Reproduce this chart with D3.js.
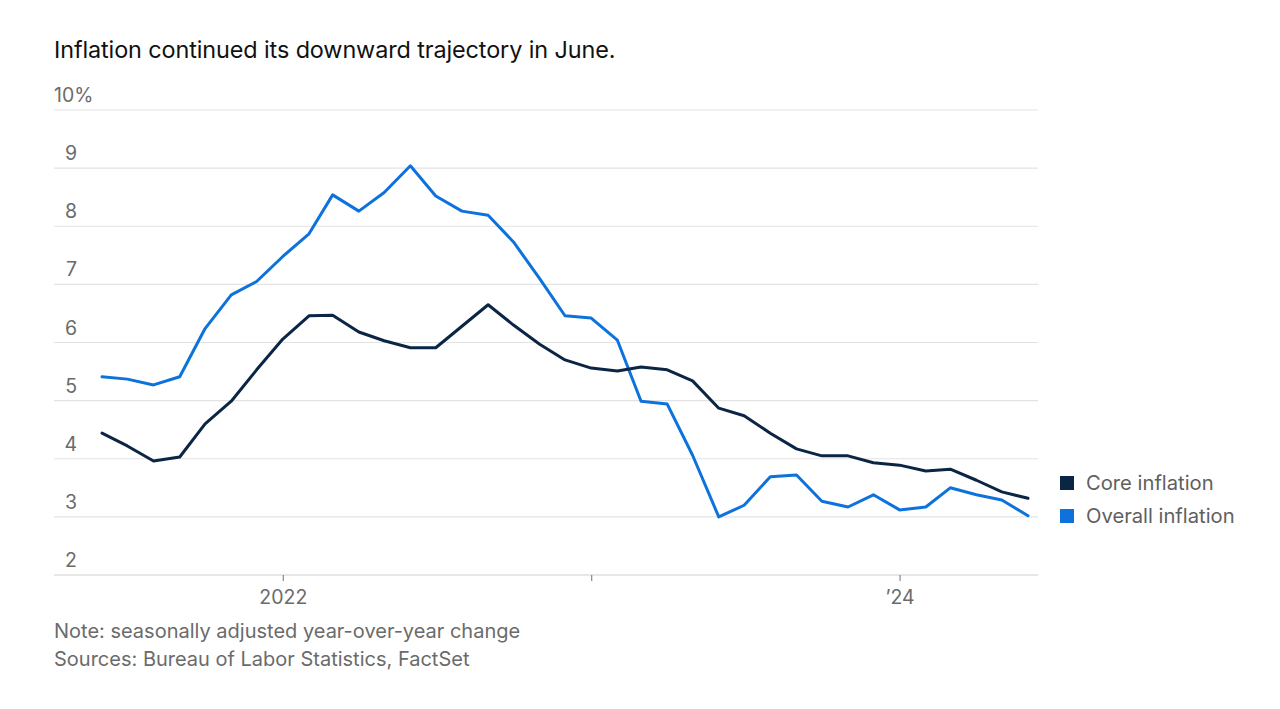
<!DOCTYPE html>
<html>
<head>
<meta charset="utf-8">
<script src="https://cdn.jsdelivr.net/npm/d3@7"></script>
<style>
  html, body { margin: 0; padding: 0; background: #fff; }
  svg { display: block; font-family: Inter, "Noto Sans", sans-serif; }
</style>
</head>
<body>
<svg id="chart" width="1280" height="709"></svg>
<script>
const months = [
  "2021-06","2021-07","2021-08","2021-09","2021-10","2021-11","2021-12",
  "2022-01","2022-02","2022-03","2022-04","2022-05","2022-06","2022-07","2022-08","2022-09","2022-10","2022-11","2022-12",
  "2023-01","2023-02","2023-03","2023-04","2023-05","2023-06","2023-07","2023-08","2023-09","2023-10","2023-11","2023-12",
  "2024-01","2024-02","2024-03","2024-04","2024-05","2024-06"
];
const coreInflation = [
  4.44, 4.22, 3.96, 4.03, 4.60, 4.99, 5.53,
  6.06, 6.46, 6.47, 6.18, 6.03, 5.91, 5.91, 6.28, 6.65, 6.30, 5.97, 5.70,
  5.56, 5.51, 5.58, 5.53, 5.34, 4.87, 4.74, 4.44, 4.17, 4.05, 4.05, 3.93,
  3.89, 3.79, 3.82, 3.63, 3.43, 3.32
];
const overallInflation = [
  5.41, 5.37, 5.27, 5.41, 6.24, 6.82, 7.05,
  7.48, 7.87, 8.54, 8.26, 8.58, 9.04, 8.52, 8.26, 8.19, 7.73, 7.10, 6.46,
  6.42, 6.04, 4.99, 4.94, 4.06, 3.00, 3.20, 3.69, 3.72, 3.27, 3.17, 3.38,
  3.12, 3.17, 3.50, 3.38, 3.29, 3.02
];
const yTicks = [2, 3, 4, 5, 6, 7, 8, 9, 10];
const xTickDates = ["2022-01", "2023-01", "2024-01"];
const xTickLabels = ["2022", "", "\u201924"];
const seriesNames = ["Core inflation", "Overall inflation"];
const seriesColors = ["#0b2545", "#0d72dc"];

const svg = d3.select("#chart");
const parse = d3.timeParse("%Y-%m");
const dates = months.map(parse);

const x = d3.scaleTime().domain([dates[0], dates[dates.length - 1]]).range([102, 1028]);
const y = d3.scaleLinear().domain([2, 10]).range([575, 110]);

// Title
svg.append("text")
  .attr("x", 54).attr("y", 58)
  .attr("font-size", 23.4).attr("fill", "#111")
  .attr("letter-spacing", -0.1)
  .text("Inflation continued its downward trajectory in June.");

// Gridlines
const grid = svg.append("g");
grid.selectAll("line").data(yTicks).join("line")
  .attr("x1", 54).attr("x2", 1038)
  .attr("y1", d => y(d)).attr("y2", d => y(d))
  .attr("stroke", d => d === 2 ? "#cfcfcf" : "#e3e3e3")
  .attr("stroke-width", 1.2);

// Y labels (right-aligned numbers, % hangs)
const yl = svg.append("g").attr("font-size", 19.5).attr("fill", "#6b6b6b");
yl.selectAll("text").data(yTicks).join("text")
  .attr("x", 77).attr("y", d => y(d) - 8)
  .attr("text-anchor", "end")
  .text(d => d)
  .filter(d => d === 10)
  .append("tspan").text("%");
yl.selectAll("text").filter(d => d === 10).attr("text-anchor", "start").attr("x", 54);

// X axis ticks
const xAxis = d3.axisBottom(x)
  .tickValues(xTickDates.map(parse))
  .tickSize(6)
  .tickFormat((d, i) => xTickLabels[i]);
const gx = svg.append("g").attr("transform", "translate(0,575)").call(xAxis);
gx.select(".domain").remove();
gx.selectAll(".tick line").attr("stroke", "#888").attr("stroke-width", 1.2);
gx.selectAll(".tick text")
  .attr("font-family", "Inter, 'Noto Sans', sans-serif")
  .attr("font-size", 19.5).attr("fill", "#6b6b6b").attr("dy", "1.05em");

// Lines
const line = d3.line().x((d, i) => x(dates[i])).y(d => y(d)).curve(d3.curveLinear);
const seriesData = [coreInflation, overallInflation];
svg.append("g").selectAll("path").data([1, 0]).join("path")
  .attr("d", k => line(seriesData[k]))
  .attr("fill", "none")
  .attr("stroke", k => seriesColors[k])
  .attr("stroke-width", 3)
  .attr("stroke-linejoin", "round")
  .attr("stroke-linecap", "round");

// Legend
const lg = svg.append("g");
seriesNames.forEach((name, i) => {
  const yy = 483 + i * 33;
  lg.append("rect").attr("x", 1060).attr("y", yy - 7).attr("width", 14).attr("height", 14)
    .attr("fill", seriesColors[i]);
  lg.append("text").attr("x", 1086).attr("y", yy + 7)
    .attr("font-size", 20.2).attr("fill", "#5f5f5f").text(name);
});

// Notes
svg.append("text").attr("x", 54).attr("y", 638)
  .attr("font-size", 20).attr("fill", "#6b6b6b")
  .text("Note: seasonally adjusted year-over-year change");
svg.append("text").attr("x", 54).attr("y", 666)
  .attr("font-size", 20).attr("fill", "#6b6b6b")
  .text("Sources: Bureau of Labor Statistics, FactSet");
</script>
</body>
</html>
